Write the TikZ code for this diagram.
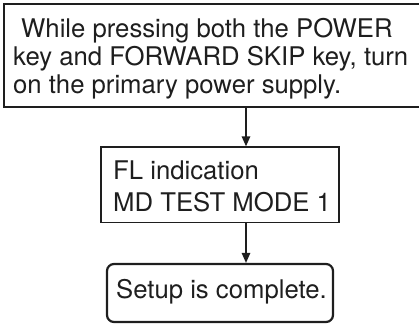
\documentclass[tikz,border=0pt]{standalone}
\usepackage{fontspec}
\setmainfont{TeX Gyre Heros}
\usetikzlibrary{arrows.meta}
\definecolor{ink}{RGB}{30,30,30}
\tikzset{
  boxshape/.style={draw=ink, rectangle, inner sep=0pt},
  txt/.style={text=ink, align=left, inner sep=0pt, anchor=base west},
  conn/.style={draw=ink, line width=1.3bp, -{Triangle[length=10bp,width=8.5bp]}},
}
\begin{document}
\begin{tikzpicture}[x=1bp,y=-1bp]
\useasboundingbox (0,0) rectangle (419,324);
% boxes
\node[boxshape, line width=1.6bp, minimum width=416.5bp, minimum height=103bp] (b1) at (212.25,55.5) {};
\node[boxshape, line width=1.3bp, minimum width=238bp, minimum height=75.5bp] (b2) at (220,184.75) {};
\node[boxshape, line width=2.2bp, rounded corners=7bp, minimum width=226bp, minimum height=58bp] (b3) at (220,293) {};
% texts (base anchor = last line)
\node[txt, font=\fontsize{25.8}{28.1}\selectfont] (t1) at (13,93.5) {\hspace{8bp}While pressing both the POWER\\key and FORWARD SKIP key, turn\\on the primary power supply.};
\node[txt, font=\fontsize{25.8}{32.1}\selectfont] (t2) at (113,211) {FL indication\\MD TEST MODE 1};
\node[txt, font=\fontsize{25.8}{28.1}\selectfont] (t3) at (116,298) {Setup is complete.};
% connectors
\coordinate (ax) at (246,0);
\draw[conn] (b1.south -| ax) -- (b2.north -| ax);
\draw[conn] (b2.south -| ax) -- (b3.north -| ax);
\end{tikzpicture}
\end{document}
